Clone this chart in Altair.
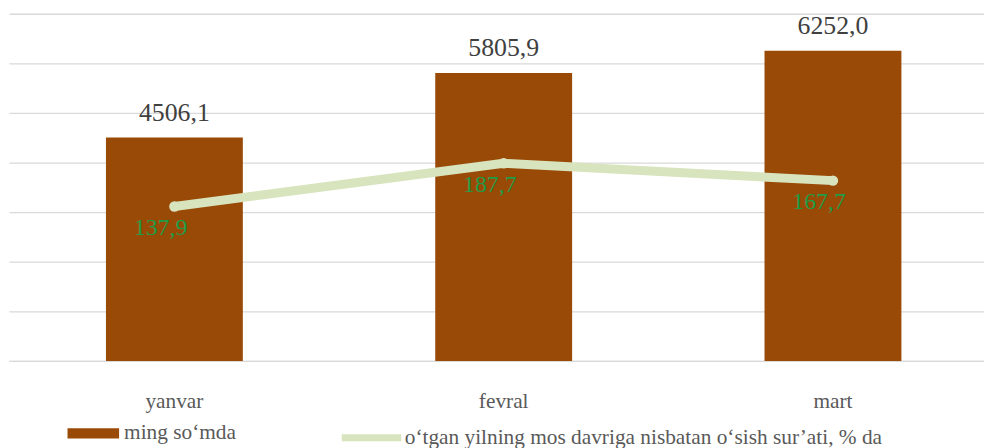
import altair as alt
import pandas as pd

months = ["yanvar", "fevral", "mart"]
values = [4506.1, 5805.9, 6252.0]
growth = [137.9, 187.7, 167.7]
bar_series_name = "ming so‘mda"
line_series_name = "o‘tgan yilning mos davriga nisbatan o‘sish sur’ati, % da"

BROWN = "#9A4A07"
LINE = "#D7E4BD"
GREEN = "#1E9C45"
FONT = "Liberation Serif"

df = pd.DataFrame({
    "month": months,
    "value": values,
    "growth": growth,
    "bar_series": [bar_series_name] * 3,
    "line_series": [line_series_name] * 3,
})

base = alt.Chart(df).transform_calculate(
    vlabel="replace(format(datum.value, '.1f'), '.', ',')",
    glabel="replace(format(datum.growth, '.1f'), '.', ',')",
)

xscale = alt.Scale(paddingInner=0.584, paddingOuter=0.2725, align=0.54)
xaxis = alt.Axis(
    labelAngle=0, labelFont=FONT, labelFontSize=21.5, labelColor="#595959",
    labelPadding=30, ticks=False, domainColor="#d9d9d9", domainWidth=1.3,
    grid=False,
)
x = alt.X("month:N", sort=months, title=None, scale=xscale, axis=xaxis)

yscale_bar = alt.Scale(domain=[0, 7000], nice=False)
yscale_line = alt.Scale(domain=[-40, 360], nice=False)
yaxis_bar = alt.Axis(values=[0, 1000, 2000, 3000, 4000, 5000, 6000, 7000],
                     labels=False, ticks=False, domain=False, grid=True,
                     gridColor="#d9d9d9", gridWidth=1.3, title=None)

bars = base.mark_bar(width=138).encode(
    x=x,
    y=alt.Y("value:Q", scale=yscale_bar, title=None, axis=yaxis_bar),
    fill=alt.Fill(
        "bar_series:N",
        scale=alt.Scale(domain=[bar_series_name], range=[BROWN]),
        legend=alt.Legend(
            title=None, orient="none", legendX=59, legendY=397, padding=0,
            symbolType="M-1,-0.2H1V0.2H-1Z", symbolSize=2704, symbolStrokeWidth=0,
            labelFont=FONT, labelFontSize=21.5, labelColor="#595959", labelOffset=5,
            labelLimit=800,
        ),
    ),
)

bar_text = base.mark_text(
    baseline="alphabetic", dy=-17, font=FONT, fontSize=26, color="#404040"
).encode(
    x=x,
    y=alt.Y("value:Q", scale=yscale_bar, title=None, axis=yaxis_bar),
    text="vlabel:N",
)

line = base.mark_line(strokeWidth=9, strokeCap="round", strokeJoin="round").encode(
    x=x,
    y=alt.Y("growth:Q", scale=yscale_line, axis=None),
    stroke=alt.Stroke(
        "line_series:N",
        scale=alt.Scale(domain=[line_series_name], range=[LINE]),
        legend=alt.Legend(
            title=None, orient="none", legendX=332, legendY=394, padding=0,
            symbolType="M-1,0H1", symbolSize=3600, symbolStrokeWidth=7,
            labelFont=FONT, labelFontSize=21.5, labelColor="#595959", labelOffset=0,
            labelLimit=800,
        ),
    ),
)

pts = base.mark_circle(size=110, color=LINE, opacity=1).encode(
    x=x,
    y=alt.Y("growth:Q", scale=yscale_line, axis=None),
)

line_text = base.mark_text(
    baseline="alphabetic", dx=-14, dy=29, font=FONT, fontSize=24, color=GREEN
).encode(
    x=x,
    y=alt.Y("growth:Q", scale=yscale_line, axis=None),
    text="glabel:N",
)

chart = alt.layer(
    alt.layer(bars, bar_text),
    alt.layer(line, pts, line_text),
).resolve_scale(y="independent", fill="independent", stroke="independent").properties(
    width=983, height=350,
    padding={"left": 1, "top": 4, "right": 0, "bottom": 86},
    autosize=alt.AutoSizeParams(type="none"),
).configure_view(stroke=None)

chart.save("out.html", embed_options={"renderer": "svg", "actions": False})
